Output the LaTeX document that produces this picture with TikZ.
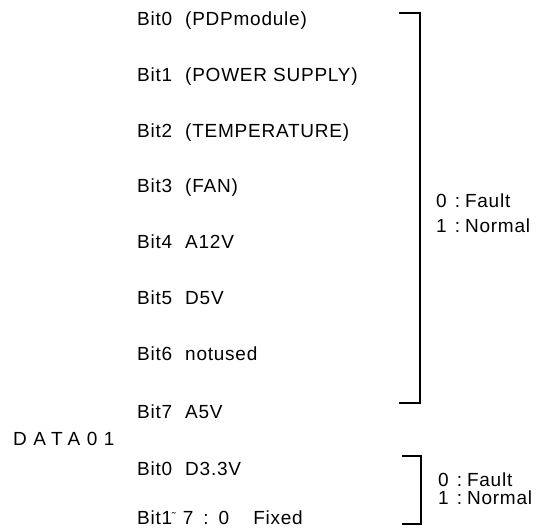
\documentclass[tikz,border=0pt]{standalone}
\usepackage{fontspec}
\setmainfont{Liberation Sans}[LetterSpace=4]
\newfontfamily\wide{Liberation Sans}[LetterSpace=34]
\begin{document}
\begin{tikzpicture}[x=1pt,y=-1pt,
  lbl/.style={anchor=base west,inner sep=0pt,font=\fontsize{19}{21}\selectfont},
  brk/.style={line width=1.4pt}]
\useasboundingbox (0,0) rectangle (542,530);
\node[lbl] (b0) at (137,26) {Bit0\hspace{13pt}(PDPmodule)};
\node[lbl] (b1) at (137,81.5) {Bit1\hspace{13pt}(POWER SUPPLY)};
\node[lbl] (b2) at (137,137) {Bit2\hspace{13pt}(TEMPERATURE)};
\node[lbl] (b3) at (137,192.5) {Bit3\hspace{13pt}(FAN)};
\node[lbl] (b4) at (137,248.5) {Bit4\hspace{13pt}A12V};
\node[lbl] (b5) at (137,304) {Bit5\hspace{13pt}D5V};
\node[lbl] (b6) at (137,360) {Bit6\hspace{13pt}notused};
\node[lbl] (b7) at (137,418) {Bit7\hspace{13pt}A5V};
\node[lbl,font=\fontsize{19}{21}\wide] (data) at (13,445) {DATA01};
\node[lbl] (c0) at (137,475) {Bit0\hspace{13pt}D3.3V};
\node[lbl] (c1) at (137,524) {Bit1\raisebox{3.5pt}{\fontsize{11}{11}\selectfont\char"02DC}\hspace{7pt}7\hspace{10pt}:\hspace{10pt}0\hspace{24pt}Fixed};
% bracket 1
\coordinate (t1) at (399,13);
\coordinate (u1) at (420,13);
\coordinate (v1) at (420,403);
\coordinate (w1) at (399,403);
\draw[brk] (t1) -- (u1) -- (v1) -- (w1);
\node[lbl] (f1) at (436,207) {0\hspace{8pt}:\hspace{5pt}Fault};
\node[lbl] (n1) at (436,232) {1\hspace{8pt}:\hspace{5pt}Normal};
% bracket 2
\coordinate (t2) at (402,456);
\coordinate (u2) at (421,456);
\coordinate (v2) at (421,524);
\coordinate (w2) at (402,524);
\draw[brk] (t2) -- (u2) -- (v2) -- (w2);
\node[lbl] (f2) at (438,486) {0\hspace{8pt}:\hspace{5pt}Fault};
\node[lbl] (n2) at (438,504) {1\hspace{8pt}:\hspace{5pt}Normal};
\end{tikzpicture}
\end{document}
